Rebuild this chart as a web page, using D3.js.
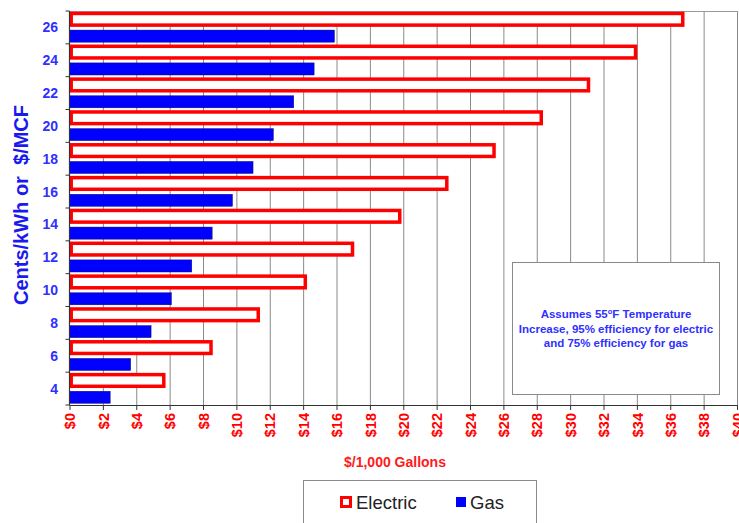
<!DOCTYPE html>
<html>
<head>
<meta charset="utf-8">
<script src="https://cdn.jsdelivr.net/npm/d3@7"></script>
<style>
  html, body { margin: 0; padding: 0; background: #fff; }
  svg { display: block; font-family: "Liberation Sans", Arial, sans-serif; }
</style>
</head>
<body>
<svg id="chart" width="739" height="523"></svg>
<script>
// Energy price (cents/kWh for electric, $/MCF for gas)
const prices = [4, 6, 8, 10, 12, 14, 16, 18, 20, 22, 24, 26];
// Cost of heating 1,000 gallons of water, $
const electric = [5.65, 8.48, 11.31, 14.13, 16.96, 19.79, 22.61, 25.44, 28.27, 31.10, 33.92, 36.75];
const gas = [2.44, 3.67, 4.89, 6.11, 7.33, 8.55, 9.77, 11.0, 12.22, 13.44, 14.66, 15.88];
const xTicks = [0, 2, 4, 6, 8, 10, 12, 14, 16, 18, 20, 22, 24, 26, 28, 30, 32, 34, 36, 38, 40];
const seriesNames = ["Electric", "Gas"];
const noteLines = ["Assumes 55", "Increase, 95% efficiency for electric", "and 75% efficiency for gas"];

const RED = "#ff0000", BLUE = "#0000ff", LABEL_BLUE = "#3030ff";

const svg = d3.select("#chart");
const plot = { left: 69.5, right: 737, top: 11, bottom: 405 };

const x = d3.scaleLinear().domain([0, 40]).range([plot.left, plot.right]);
const y = d3.scaleBand()
  .domain(prices.slice().reverse())
  .range([plot.top, plot.bottom])
  .paddingInner(0).paddingOuter(0);
const step = y.step();

// vertical gridlines
svg.append("g")
  .selectAll("line")
  .data(xTicks.slice(1))
  .join("line")
  .attr("x1", d => x(d) + 0.5).attr("x2", d => x(d) + 0.5)
  .attr("y1", plot.top).attr("y2", plot.bottom)
  .attr("stroke", "#8a8a8a").attr("stroke-width", 1);

// top frame line
svg.append("line")
  .attr("x1", plot.left).attr("x2", plot.right + 0.5)
  .attr("y1", plot.top + 0.5).attr("y2", plot.top + 0.5)
  .attr("stroke", "#9a9a9a");

// electric bars: red outline, white fill, top half of each band
svg.append("g")
  .selectAll("rect")
  .data(prices.map((p, i) => ({ p, v: electric[i] })))
  .join("rect")
  .attr("x", x(0) + 1.7)
  .attr("y", d => y(d.p) + step * 0.075)
  .attr("width", d => x(d.v) - x(0) - 1.7)
  .attr("height", step * 0.355)
  .attr("fill", "#fff")
  .attr("stroke", RED)
  .attr("stroke-width", 3.5);

// gas bars: solid blue, lower half of each band
svg.append("g")
  .selectAll("rect")
  .data(prices.map((p, i) => ({ p, v: gas[i] })))
  .join("rect")
  .attr("x", x(0))
  .attr("y", d => y(d.p) + step * 0.58)
  .attr("width", d => x(d.v) - x(0))
  .attr("height", step * 0.37)
  .attr("fill", BLUE)
  .attr("stroke", "#10104a")
  .attr("stroke-width", 0.4);

// y axis
svg.append("line")
  .attr("x1", plot.left).attr("x2", plot.left)
  .attr("y1", plot.top).attr("y2", plot.bottom)
  .attr("stroke", "#333").attr("stroke-width", 1.2);
const yBounds = d3.range(prices.length + 1).map(i => plot.top + i * step);
svg.append("g")
  .selectAll("line")
  .data(yBounds)
  .join("line")
  .attr("x1", plot.left - 4).attr("x2", plot.left)
  .attr("y1", d => d).attr("y2", d => d)
  .attr("stroke", "#333");
svg.append("g")
  .selectAll("text")
  .data(prices)
  .join("text")
  .attr("x", 58)
  .attr("y", d => y(d) + step / 2)
  .attr("dy", "0.36em")
  .attr("text-anchor", "end")
  .attr("font-size", 14)
  .attr("font-weight", "bold")
  .attr("fill", LABEL_BLUE)
  .text(d => d);

// x axis
svg.append("line")
  .attr("x1", plot.left).attr("x2", plot.right + 0.5)
  .attr("y1", plot.bottom + 0.5).attr("y2", plot.bottom + 0.5)
  .attr("stroke", "#333").attr("stroke-width", 1.2);
svg.append("g")
  .selectAll("line")
  .data(xTicks)
  .join("line")
  .attr("x1", d => x(d) + 0.5).attr("x2", d => x(d) + 0.5)
  .attr("y1", plot.bottom).attr("y2", plot.bottom + 5)
  .attr("stroke", "#333");
svg.append("g")
  .selectAll("text")
  .data(xTicks)
  .join("text")
  .attr("transform", d => `translate(${x(d) + 0.5},${plot.bottom + 8}) rotate(-90)`)
  .attr("dy", "0.36em")
  .attr("text-anchor", "end")
  .attr("font-size", 14.5)
  .attr("font-weight", "bold")
  .attr("fill", RED)
  .text(d => "$" + d);

// axis titles
svg.append("text")
  .attr("x", 395).attr("y", 467)
  .attr("text-anchor", "middle")
  .attr("font-size", 14).attr("font-weight", "bold")
  .attr("fill", "#ff1a1a")
  .text("$/1,000 Gallons");
svg.append("text")
  .attr("transform", "translate(28,205) rotate(-90)")
  .attr("text-anchor", "middle")
  .attr("font-size", 20).attr("font-weight", "bold")
  .attr("fill", "#1a1aee")
  .attr("xml:space", "preserve")
  .style("white-space", "pre")
  .text("Cents/kWh or  $/MCF");

// assumptions note
const note = svg.append("g");
note.append("rect")
  .attr("x", 512.5).attr("y", 262.5).attr("width", 207).attr("height", 132)
  .attr("fill", "#fff").attr("stroke", "#8a8a8a");
const noteText = note.append("text")
  .attr("text-anchor", "middle")
  .attr("font-size", 11.5).attr("font-weight", "bold")
  .attr("fill", LABEL_BLUE);
const l1 = noteText.append("tspan").attr("x", 616).attr("y", 318);
l1.append("tspan").text(noteLines[0]);
l1.append("tspan").attr("font-size", 7.5).attr("dy", -4.5).text("o");
l1.append("tspan").attr("dy", 4.5).text("F Temperature");
noteText.append("tspan").attr("x", 616).attr("y", 333).text(noteLines[1]);
noteText.append("tspan").attr("x", 616).attr("y", 347).text(noteLines[2]);

// legend
const legend = svg.append("g");
legend.append("rect")
  .attr("x", 303.5).attr("y", 480.5).attr("width", 233).attr("height", 60)
  .attr("fill", "#fff").attr("stroke", "#8a8a8a");
legend.append("rect")
  .attr("x", 341.5).attr("y", 497.5).attr("width", 9).attr("height", 9)
  .attr("fill", "#fff").attr("stroke", RED).attr("stroke-width", 3);
legend.append("text")
  .attr("x", 356).attr("y", 509)
  .attr("font-size", 18.5).attr("fill", "#222")
  .text(seriesNames[0]);
legend.append("rect")
  .attr("x", 456).attr("y", 497).attr("width", 10).attr("height", 10)
  .attr("fill", BLUE);
legend.append("text")
  .attr("x", 470).attr("y", 509)
  .attr("font-size", 18.5).attr("fill", "#222")
  .text(seriesNames[1]);
</script>
</body>
</html>
